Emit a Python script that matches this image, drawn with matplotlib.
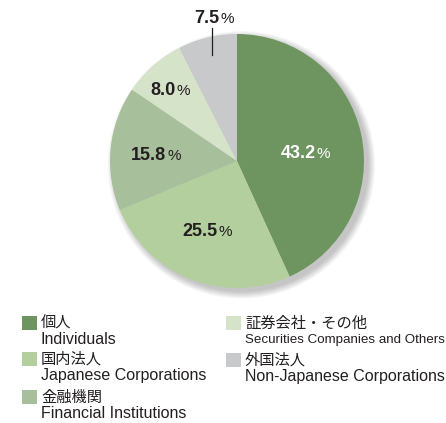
import matplotlib
matplotlib.use("Agg")
import matplotlib.pyplot as plt
from matplotlib.patches import Circle, Rectangle
from matplotlib.offsetbox import TextArea, HPacker, AnnotationBbox
from matplotlib import font_manager

# ---- data ----
labels_ja = ["個人", "国内法人", "金融機関", "証券会社・その他", "外国法人"]
labels_en = ["Individuals", "Japanese Corporations", "Financial Institutions",
             "Securities Companies and Others", "Non-Japanese Corporations"]
values = [43.2, 25.5, 15.8, 8.0, 7.5]
value_text = ["43.2", "25.5", "15.8", "8.0", "7.5"]
colors = ["#6e955f", "#b2cf9d", "#a8bf9b", "#d5e3c9", "#c8c9cb"]
label_colors = ["white", "#231f20", "#231f20", "#231f20", "#231f20"]

FONT = ["Liberation Sans", "Noto Sans CJK JP", "DejaVu Sans"]
plt.rcParams["font.family"] = FONT

installed = {f.name for f in font_manager.fontManager.ttflist}
NARROW = (["Liberation Sans Narrow"] if "Liberation Sans Narrow" in installed else []) + FONT

W, H = 446, 423
fig = plt.figure(figsize=(W / 100, H / 100), dpi=100)

# pie geometry (pixels)
cx, cy, R = 237, 161, 127
lim = 1.1
ax = fig.add_axes([(cx - lim * R) / W, (H - cy - lim * R) / H, 2 * lim * R / W, 2 * lim * R / H])

# soft shadow
for i in range(10):
    ax.add_patch(Circle((0.035, -0.03), 1.0 + 0.006 * i, color="black",
                        alpha=0.022, lw=0, zorder=0))

ax.pie(values, colors=colors, startangle=90, counterclock=False, radius=1,
       wedgeprops=dict(linewidth=0))
ax.set_xlim(-lim, lim)
ax.set_ylim(-lim, lim)
ax.set_aspect("equal")
ax.axis("off")

# label positions (pixels in figure)
label_px = [(305, 154), (207, 231), (156, 155), (170, 91), (214, 19)]
for txt, col, (px, py) in zip(value_text, label_colors, label_px):
    box = HPacker(children=[
        TextArea(txt, textprops=dict(weight="bold", size=13, color=col, family=FONT)),
        TextArea("%", textprops=dict(size=11, color=col, family=FONT)),
    ], sep=0.5, align="baseline", pad=0)
    xy = ((px - cx) / R, (cy - py) / R)
    ab = AnnotationBbox(box, xy, frameon=False, box_alignment=(0.5, 0.5),
                        annotation_clip=False, pad=0)
    ax.add_artist(ab)

# leader line for 7.5%
ax.plot([(212 - cx) / R, (212 - cx) / R], [(cy - 28) / R, (cy - 55) / R],
        color="#231f20", lw=0.9, clip_on=False)

# ---- legend (overlay in pixel coords) ----
lax = fig.add_axes([0, 0, 1, 1])
lax.set_xlim(0, W)
lax.set_ylim(H, 0)
lax.axis("off")

legend_pos = [(22, 323), (22, 359), (22, 397), (226, 323), (226, 360)]
for i, (ja, en, col, (x, y)) in enumerate(zip(labels_ja, labels_en, colors, legend_pos)):
    lax.add_patch(Rectangle((x, y - 7), 15, 14, color=col, lw=0))
    lax.text(x + 19, y, ja, fontsize=11, va="center", ha="left",
             color="#231f20", family=["Noto Sans CJK JP", "DejaVu Sans"])
    fam = NARROW if i == 3 else FONT
    size = 11.5 if (i != 3 or len(NARROW) > len(FONT)) else 9.6
    lax.text(x + 19, y + 16.5, en, fontsize=size, va="center", ha="left",
             color="#231f20", family=fam)

fig.savefig("out.png", dpi=100)
